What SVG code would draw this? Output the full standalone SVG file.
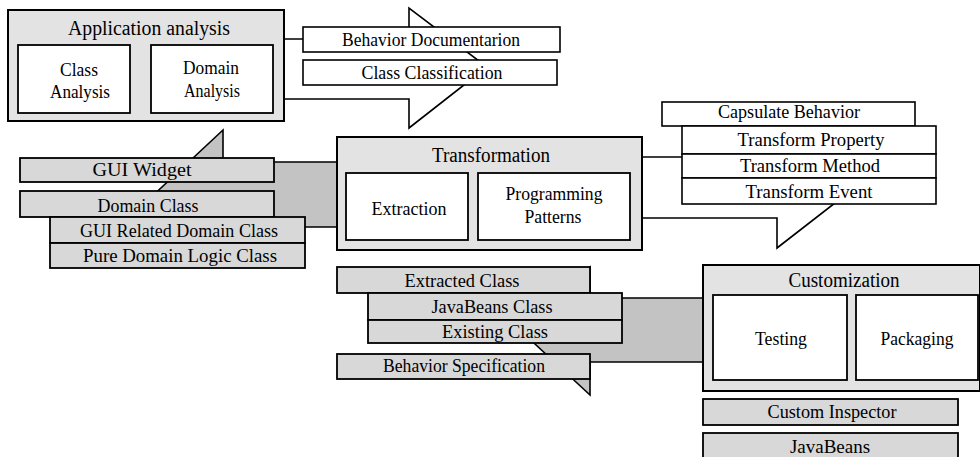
<svg xmlns="http://www.w3.org/2000/svg" width="980" height="457" viewBox="0 0 980 457">
<style>
text{font-family:"Liberation Serif","Times New Roman",serif;font-size:19px;fill:#000;text-anchor:middle}
.t{font-size:20px}
.c{fill:#e3e3e3;stroke:#000;stroke-width:2}
.w{fill:#fff;stroke:#000;stroke-width:1.8}
.g{fill:#d8d8d8;stroke:#000;stroke-width:1.8}
.lw{fill:#fff;stroke:#000;stroke-width:1.6}
.ar{fill:#fff;stroke:#000;stroke-width:1.6;stroke-linejoin:miter}
.as{fill:#c3c3c3;stroke:#000;stroke-width:1.6;stroke-linejoin:miter}
</style>
<rect width="980" height="457" fill="#fff"/>
<g id="connectors">
<path class="ar" d="M284,39 H409 V8 L487,67 L409,128 V99 H284"/>
<path class="ar" d="M642,157 H777 V127 L855,187.5 L777,248 V218 H642"/>
<path class="as" d="M337,162 H223 V130 L154,194.5 L223,259 V227 H337"/>
<path class="as" d="M703,298 H590 V267 L521,331 L590,395 V362 H703"/>
</g>
<g id="application-analysis">
<rect class="c" x="8" y="10" width="276" height="111"/>
<text class="t" x="149" y="35" textLength="162" lengthAdjust="spacingAndGlyphs">Application analysis</text>
<rect class="w" x="18" y="45" width="112" height="68"/>
<text x="79" y="76" textLength="38" lengthAdjust="spacingAndGlyphs">Class</text>
<text x="80" y="98" textLength="60" lengthAdjust="spacingAndGlyphs">Analysis</text>
<rect class="w" x="151" y="45" width="122" height="68"/>
<text x="211" y="74" textLength="56" lengthAdjust="spacingAndGlyphs">Domain</text>
<text x="212" y="97" textLength="56" lengthAdjust="spacingAndGlyphs">Analysis</text>
</g>
<g id="behavior-documentarion">
<rect class="lw" x="303" y="27" width="257" height="25"/>
<text x="431" y="46" textLength="178" lengthAdjust="spacingAndGlyphs">Behavior Documentarion</text>
</g>
<g id="class-classification">
<rect class="lw" x="303" y="60" width="254" height="25"/>
<text x="432" y="79" textLength="141" lengthAdjust="spacingAndGlyphs">Class Classification</text>
</g>
<g id="transformation">
<rect class="c" x="337" y="137" width="305" height="113"/>
<text class="t" x="491" y="162" textLength="118" lengthAdjust="spacingAndGlyphs">Transformation</text>
<rect class="w" x="346" y="173" width="122" height="67"/>
<text x="409" y="215" textLength="75" lengthAdjust="spacingAndGlyphs">Extraction</text>
<rect class="w" x="478" y="173" width="152" height="67"/>
<text x="554" y="200" textLength="97" lengthAdjust="spacingAndGlyphs">Programming</text>
<text x="553" y="223" textLength="57" lengthAdjust="spacingAndGlyphs">Patterns</text>
</g>
<g id="capsulate-behavior">
<rect class="lw" x="662" y="102" width="253" height="24"/>
<text x="789" y="118" textLength="142" lengthAdjust="spacingAndGlyphs">Capsulate Behavior</text>
</g>
<g id="transform-property">
<rect class="lw" x="682" y="126" width="254" height="28"/>
<text x="811" y="146" textLength="147" lengthAdjust="spacingAndGlyphs">Transform Property</text>
</g>
<g id="transform-method">
<rect class="lw" x="682" y="154" width="254" height="24"/>
<text x="810" y="172" textLength="140" lengthAdjust="spacingAndGlyphs">Transform Method</text>
</g>
<g id="transform-event">
<rect class="lw" x="682" y="178" width="254" height="26"/>
<text x="809" y="198" textLength="127" lengthAdjust="spacingAndGlyphs">Transform Event</text>
</g>
<g id="gui-widget">
<rect class="g" x="20" y="158" width="254" height="24"/>
<text x="142" y="176" textLength="99" lengthAdjust="spacingAndGlyphs">GUI Widget</text>
</g>
<g id="domain-class">
<rect class="g" x="20" y="191" width="254" height="26"/>
<text x="148" y="212" textLength="101" lengthAdjust="spacingAndGlyphs">Domain Class</text>
</g>
<g id="gui-related-domain-class">
<rect class="g" x="50" y="217" width="255" height="26"/>
<text x="179" y="237" textLength="198" lengthAdjust="spacingAndGlyphs">GUI Related Domain Class</text>
</g>
<g id="pure-domain-logic-class">
<rect class="g" x="50" y="243" width="255" height="25"/>
<text x="180" y="262" textLength="194" lengthAdjust="spacingAndGlyphs">Pure Domain Logic Class</text>
</g>
<g id="extracted-class">
<rect class="g" x="337" y="267" width="253" height="26"/>
<text x="462" y="287" textLength="115" lengthAdjust="spacingAndGlyphs">Extracted Class</text>
</g>
<g id="javabeans-class">
<rect class="g" x="368" y="293" width="254" height="27"/>
<text x="492" y="313" textLength="121" lengthAdjust="spacingAndGlyphs">JavaBeans Class</text>
</g>
<g id="existing-class">
<rect class="g" x="368" y="320" width="254" height="23"/>
<text x="495" y="338" textLength="106" lengthAdjust="spacingAndGlyphs">Existing Class</text>
</g>
<g id="behavior-specification">
<rect class="g" x="337" y="354" width="253" height="25"/>
<text x="464" y="372" textLength="162" lengthAdjust="spacingAndGlyphs">Behavior Specification</text>
</g>
<g id="customization">
<rect class="c" x="703" y="265" width="277" height="126"/>
<text class="t" x="844" y="287" textLength="111" lengthAdjust="spacingAndGlyphs">Customization</text>
<rect class="w" x="713" y="295" width="134" height="85"/>
<text x="781" y="345" textLength="52" lengthAdjust="spacingAndGlyphs">Testing</text>
<rect class="w" x="856" y="295" width="122" height="85"/>
<text x="917" y="345" textLength="73" lengthAdjust="spacingAndGlyphs">Packaging</text>
</g>
<g id="custom-inspector">
<rect class="g" x="703" y="399" width="255" height="26"/>
<text x="832" y="418" textLength="129" lengthAdjust="spacingAndGlyphs">Custom Inspector</text>
</g>
<g id="javabeans">
<rect class="g" x="703" y="433" width="255" height="30"/>
<text x="830" y="453">JavaBeans</text>
</g>
</svg>
